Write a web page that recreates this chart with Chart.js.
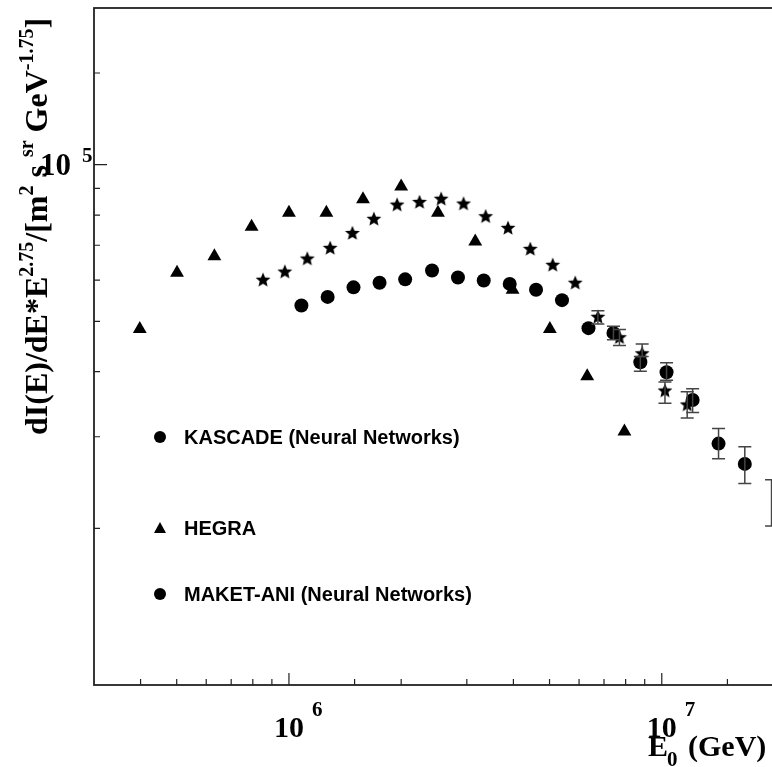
<!DOCTYPE html>
<html>
<head>
<meta charset="utf-8">
<script src="https://cdn.jsdelivr.net/npm/chart.js@4.4.1/dist/chart.umd.min.js"></script>
<style>
html, body { margin: 0; padding: 0; background: #fff; overflow: hidden; }
#wrap { position: relative; width: 790px; height: 767px; }
</style>
</head>
<body>
<div id="wrap"><canvas id="chart" width="790" height="767"></canvas></div>
<script>
// values (E0 in GeV, flux * E^2.75)
const hegraEnergy = [3.98e5, 5.01e5, 6.31e5, 7.94e5, 1.0e6, 1.26e6, 1.58e6, 2.0e6, 2.51e6, 3.16e6, 3.98e6, 5.01e6, 6.31e6, 7.94e6];
const hegraFlux = [4.83e4, 6.2e4, 6.67e4, 7.6e4, 8.08e4, 8.08e4, 8.58e4, 9.08e4, 8.08e4, 7.12e4, 5.75e4, 4.83e4, 3.92e4, 3.07e4];

const kascadeEnergy = [1.08e6, 1.27e6, 1.49e6, 1.75e6, 2.05e6, 2.42e6, 2.84e6, 3.33e6, 3.91e6, 4.60e6, 5.40e6, 6.36e6, 7.42e6, 8.76e6, 1.03e7, 1.21e7, 1.42e7, 1.67e7, 1.97e7];
const kascadeFlux = [5.36e4, 5.57e4, 5.81e4, 5.93e4, 6.02e4, 6.26e4, 6.07e4, 5.99e4, 5.90e4, 5.75e4, 5.49e4, 4.85e4, 4.75e4, 4.17e4, 3.99e4, 3.53e4, 2.91e4, 2.66e4, 2.24e4];
const kascadeHigh = [null, null, null, null, null, null, null, null, null, null, null, null, 4.89e4, 4.28e4, 4.16e4, 3.71e4, 3.11e4, 2.87e4, 2.48e4];
const kascadeLow = [null, null, null, null, null, null, null, null, null, null, null, null, 4.61e4, 4.01e4, 3.85e4, 3.34e4, 2.72e4, 2.44e4, 2.02e4];

const maketEnergy = [8.52e5, 9.75e5, 1.12e6, 1.29e6, 1.48e6, 1.69e6, 1.95e6, 2.24e6, 2.56e6, 2.94e6, 3.37e6, 3.87e6, 4.44e6, 5.10e6, 5.86e6, 6.74e6, 7.70e6, 8.86e6, 1.02e7, 1.17e7];
const maketFlux = [6.01e4, 6.23e4, 6.60e4, 6.92e4, 7.39e4, 7.87e4, 8.38e4, 8.48e4, 8.60e4, 8.42e4, 7.96e4, 7.56e4, 6.89e4, 6.42e4, 5.93e4, 5.10e4, 4.66e4, 4.34e4, 3.68e4, 3.46e4];
const maketHigh = [null, null, null, null, null, null, null, null, null, null, null, null, null, null, null, 5.24e4, 4.82e4, 4.52e4, 3.82e4, 3.66e4];
const maketLow = [null, null, null, null, null, null, null, null, null, null, null, null, null, null, null, 4.94e4, 4.49e4, 4.28e4, 3.48e4, 3.26e4];

const xTickLabels = [[1e6, '6'], [1e7, '7']];
const yTickLabels = [[1e5, '5']];
const legendLabels = ['KASCADE (Neural Networks)', 'HEGRA', 'MAKET-ANI (Neural Networks)'];
const legendMarkers = ['circle', 'triangle', 'circle'];

function points(xs, ys, hi, lo) {
    return xs.map((x, i) => ({ x: x, y: ys[i], hi: hi ? hi[i] : null, lo: lo ? lo[i] : null }));
}

function makeStar(rOut, rIn) {
    const c = document.createElement('canvas');
    const s = Math.ceil(rOut * 2) + 2;
    c.width = s;
    c.height = s;
    const g = c.getContext('2d');
    g.beginPath();
    for (let i = 0; i < 10; i++) {
        const r = i % 2 ? rIn : rOut;
        const a = -Math.PI / 2 + i * Math.PI / 5;
        g.lineTo(s / 2 + r * Math.cos(a), s / 2 + 0.5 + r * Math.sin(a));
    }
    g.closePath();
    g.fillStyle = '#000';
    g.fill();
    return c;
}

const serif = '"Liberation Serif", "Times New Roman", serif';
const sans = '"Liberation Sans", Arial, sans-serif';

// error bars with caps
const errorBars = {
    id: 'errorBars',
    afterDatasetsDraw(chart) {
        const ctx = chart.ctx;
        const xs = chart.scales.x, ys = chart.scales.y;
        const area = chart.chartArea;
        ctx.save();
        ctx.beginPath();
        ctx.rect(area.left, area.top, area.right - area.left, area.bottom - area.top);
        ctx.clip();
        ctx.strokeStyle = '#444';
        ctx.lineWidth = 1.5;
        chart.data.datasets.forEach(ds => {
            ds.data.forEach(p => {
                if (p.hi == null) return;
                const x = xs.getPixelForValue(p.x);
                const y1 = ys.getPixelForValue(p.hi);
                const y2 = ys.getPixelForValue(p.lo);
                ctx.beginPath();
                ctx.moveTo(x, y1); ctx.lineTo(x, y2);
                ctx.moveTo(x - 6.5, y1); ctx.lineTo(x + 6.5, y1);
                ctx.moveTo(x - 6.5, y2); ctx.lineTo(x + 6.5, y2);
                ctx.stroke();
            });
        });
        ctx.restore();
    }
};

// frame, inward ticks, ROOT-style labels and legend
const decorations = {
    id: 'decorations',
    afterDraw(chart) {
        const ctx = chart.ctx;
        const xs = chart.scales.x, ys = chart.scales.y;
        const a = chart.chartArea;
        ctx.save();
        ctx.strokeStyle = '#222';
        ctx.lineWidth = 1.8;
        ctx.strokeRect(a.left, a.top, a.right - a.left, a.bottom - a.top);

        ctx.lineWidth = 1.2;
        ctx.beginPath();
        xs.ticks.forEach(t => {
            const lg = Math.log10(t.value);
            const major = Math.abs(lg - Math.round(lg)) < 1e-6;
            const px = xs.getPixelForValue(t.value);
            if (px <= a.left + 1 || px >= a.right - 1) return;
            ctx.moveTo(px, a.bottom);
            ctx.lineTo(px, a.bottom - (major ? 12 : 6));
        });
        ys.ticks.forEach(t => {
            const lg = Math.log10(t.value);
            const major = Math.abs(lg - Math.round(lg)) < 1e-6;
            const py = ys.getPixelForValue(t.value);
            if (py <= a.top + 1 || py >= a.bottom - 1) return;
            ctx.moveTo(a.left, py);
            ctx.lineTo(a.left + (major ? 13 : 6), py);
        });
        ctx.stroke();

        ctx.fillStyle = '#000';
        ctx.textBaseline = 'alphabetic';
        ctx.textAlign = 'left';
        xTickLabels.forEach(([v, e]) => {
            const px = xs.getPixelForValue(v);
            ctx.font = 'bold 30px ' + serif;
            ctx.fillText('10', px - 15, a.bottom + 52);
            ctx.font = 'bold 21px ' + serif;
            ctx.fillText(e, px + 23, a.bottom + 31);
        });
        yTickLabels.forEach(([v, e]) => {
            const py = ys.getPixelForValue(v);
            ctx.font = 'bold 31px ' + serif;
            ctx.fillText('10', 40, py + 10);
            ctx.font = 'bold 21px ' + serif;
            ctx.fillText(e, 82, py - 3);
        });

        // x title
        ctx.font = 'bold 30px ' + serif;
        ctx.fillText('E', 648, 756);
        const wE = ctx.measureText('E').width;
        ctx.font = 'bold 21px ' + serif;
        ctx.fillText('0', 648 + wE - 1, 766);
        ctx.font = 'bold 30px ' + serif;
        ctx.fillText('(GeV)', 688, 756);

        // y title, rotated
        ctx.save();
        ctx.translate(46.5, 435);
        ctx.rotate(-Math.PI / 2);
        const parts = [
            ['dI(E)/dE*E', 0], ['2.75', 1], ['/[m', 0], ['2', 1],
            [' s ', 0], ['sr', 1], [' GeV', 0], ['-1.75', 1], [']', 0]
        ];
        let cx = 0;
        parts.forEach(([txt, sup]) => {
            ctx.font = sup ? 'bold 20px ' + serif : 'bold 32px ' + serif;
            ctx.fillText(txt, cx, sup ? -14 : 0);
            cx += ctx.measureText(txt).width;
        });
        ctx.restore();

        // legend
        const legendY = [437, 528, 594];
        legendLabels.forEach((lab, i) => {
            const y = legendY[i];
            ctx.beginPath();
            if (legendMarkers[i] === 'circle') {
                ctx.arc(160, y, 6, 0, Math.PI * 2);
            } else {
                ctx.moveTo(160, y - 6);
                ctx.lineTo(166, y + 5);
                ctx.lineTo(154, y + 5);
                ctx.closePath();
            }
            ctx.fill();
            ctx.font = 'bold 20px ' + sans;
            ctx.textBaseline = 'middle';
            ctx.fillText(lab, 184, y + 1);
            ctx.textBaseline = 'alphabetic';
        });
        ctx.restore();
    }
};

const lastKascade = kascadeEnergy.length - 1;

new Chart(document.getElementById('chart'), {
    type: 'scatter',
    data: {
        datasets: [{
            label: 'HEGRA',
            data: points(hegraEnergy, hegraFlux),
            pointStyle: 'triangle',
            pointRadius: 8,
            backgroundColor: '#000',
            borderColor: '#000',
            borderWidth: 0
        }, {
            label: 'KASCADE (Neural Networks)',
            data: points(kascadeEnergy, kascadeFlux, kascadeHigh, kascadeLow),
            pointStyle: 'circle',
            pointRadius: c => c.dataIndex === lastKascade ? 0 : 7,
            backgroundColor: '#000',
            borderColor: '#000',
            borderWidth: 0
        }, {
            label: 'MAKET-ANI (Neural Networks)',
            data: points(maketEnergy, maketFlux, maketHigh, maketLow),
            pointStyle: makeStar(7.8, 3.5),
            pointRadius: 7,
            backgroundColor: '#000',
            borderColor: '#000'
        }]
    },
    options: {
        responsive: false,
        animation: false,
        events: [],
        layout: { padding: { left: 94, top: 5, right: 16, bottom: 82 } },
        plugins: { legend: { display: false }, tooltip: { enabled: false } },
        scales: {
            x: {
                type: 'logarithmic',
                min: 3e5,
                max: 2e7,
                grid: { display: false, drawTicks: false },
                border: { display: false },
                ticks: { display: false, autoSkip: false }
            },
            y: {
                type: 'logarithmic',
                min: 1e4,
                max: 2e5,
                grid: { display: false, drawTicks: false },
                border: { display: false },
                ticks: { display: false, autoSkip: false }
            }
        }
    },
    plugins: [errorBars, decorations]
});
</script>
</body>
</html>
